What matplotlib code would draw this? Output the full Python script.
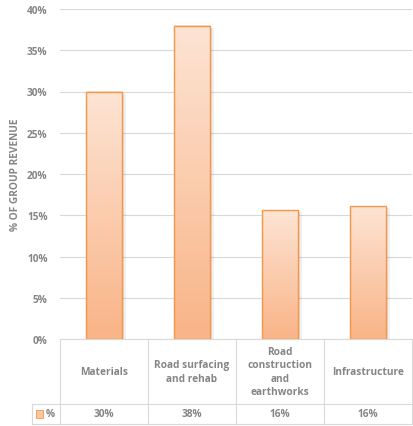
import numpy as np
import matplotlib.pyplot as plt
from matplotlib.patches import Rectangle

categories = ["Materials", "Road surfacing\nand rehab", "Road\nconstruction\nand\nearthworks", "Infrastructure"]
values = [30.0, 38.0, 15.6, 16.1]
value_labels = ["30%", "38%", "16%", "16%"]
yticks = [0, 5, 10, 15, 20, 25, 30, 35, 40]

plt.rcParams["font.family"] = ["Open Sans", "DejaVu Sans"]
grey = "#858585"
line_c = "#d9d9d9"
edge = "#f79646"
fs = 7.3
fw = "bold"

fig = plt.figure(figsize=(4.14, 4.27), dpi=100)
ax = fig.add_axes([60/414, (427-340)/427, 352/414, 330/427])

x = np.arange(len(values))
w = 0.42
grad = np.linspace(0, 1, 256).reshape(-1, 1)
top_c = np.array([253, 228, 212]) / 255
bot_c = np.array([249, 180, 135]) / 255
for xi, v in zip(x, values):
    # soft shadow right/below the bar
    for off, a in [(0.035, 0.06), (0.022, 0.08)]:
        ax.add_patch(Rectangle((xi - w/2 + off, -0.3), w, v + 0.05, facecolor="#000000",
                               alpha=a, edgecolor="none", zorder=2))
    img = top_c[None, None, :] * (1 - grad[:, :, None]) + bot_c[None, None, :] * grad[:, :, None]
    ax.imshow(img, extent=[xi - w/2, xi + w/2, 0, v], aspect="auto", zorder=3, origin="upper")
    ax.add_patch(Rectangle((xi - w/2, 0), w, v, facecolor="none", edgecolor=edge, lw=1.0, zorder=4))

ax.set_xlim(-0.5, 3.5)
ax.set_ylim(0, 40)
ax.set_yticks(yticks)
ax.set_yticklabels([f"{t}%" for t in yticks], color=grey, fontsize=fs, fontweight=fw)
ax.tick_params(axis="y", length=0, pad=9)
ax.set_xticks([])
ax.grid(axis="y", color=line_c, lw=0.8, zorder=0)
for s in ax.spines.values():
    s.set_visible(False)
ax.set_ylabel("% OF GROUP REVENUE", color=grey, fontsize=fs, fontweight=fw, labelpad=4)

# data table below the plot
tr = ax.get_xaxis_transform()
r0, r1, r2 = 0.0, -65/330, -85/330
xl = -0.5 - 28/88
kw = dict(color=line_c, lw=0.8, transform=tr, clip_on=False)
ax.plot([-0.5, 3.5], [r0, r0], **kw)
ax.plot([xl, 3.5], [r1, r1], **kw)
ax.plot([xl, 3.5], [r2, r2], **kw)
ax.plot([xl, xl], [r1, r2], **kw)
for b in [-0.5, 0.5, 1.5, 2.5, 3.5]:
    ax.plot([b, b], [r0, r2], **kw)
for xi, c, lab in zip(x, categories, value_labels):
    ax.text(xi, (r0 + r1) / 2, c, ha="center", va="center", transform=tr, fontsize=fs,
            fontweight=fw, color=grey, linespacing=1.3)
    ax.text(xi, (r1 + r2) / 2, lab, ha="center", va="center", transform=tr, fontsize=fs,
            fontweight=fw, color=grey)
ax.add_patch(Rectangle((xl + 0.05, (r1 + r2) / 2 - 0.011), 0.08, 0.022, facecolor="#fbc7a4",
                       edgecolor=edge, lw=0.6, transform=tr, clip_on=False))
ax.text(xl + 0.16, (r1 + r2) / 2, "%", ha="left", va="center", transform=tr, fontsize=fs,
        fontweight=fw, color=grey)

fig.savefig("out.png", dpi=100)
